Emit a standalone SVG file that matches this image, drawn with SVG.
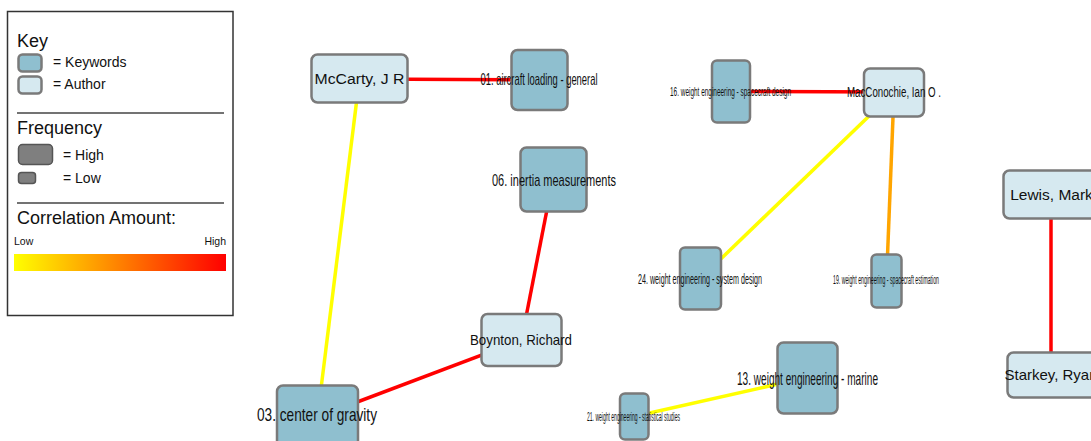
<svg xmlns="http://www.w3.org/2000/svg" width="1091" height="441" viewBox="0 0 1091 441">
<style>
text{font-family:"Liberation Sans",Arial,sans-serif;fill:#111}
.kw{fill:#8fbfcf;stroke:#7a7a7a;stroke-width:2.5}
.au{fill:#d6e9f0;stroke:#7a7a7a;stroke-width:2.5}
.fq{fill:#7f7f7f;stroke:#555;stroke-width:1.5}
.lnk{stroke-width:3.5;fill:none}
.lbl{text-anchor:middle}
.sep{stroke:#444;stroke-width:1.5}
</style>
<defs>
<linearGradient id="corr" x1="0" x2="1" y1="0" y2="0">
<stop offset="0" stop-color="#ffff00"/>
<stop offset="0.5" stop-color="#ff8000"/>
<stop offset="1" stop-color="#ff0000"/>
</linearGradient>
</defs>
<g id="legend">
<rect x="7.5" y="11.5" width="225.5" height="304" fill="#fff" stroke="#333" stroke-width="1.5"/>
<text x="17" y="47" font-size="18">Key</text>
<rect class="kw" x="18.5" y="54.5" width="23" height="17" rx="4" stroke-width="1.5"/>
<text x="53" y="67" font-size="14">= Keywords</text>
<rect class="au" x="18.5" y="76.5" width="23" height="17" rx="4" stroke-width="1.5"/>
<text x="53" y="89" font-size="14">= Author</text>
<line class="sep" x1="17" y1="113" x2="224" y2="113"/>
<text x="17" y="134" font-size="18">Frequency</text>
<rect class="fq" x="18.5" y="144.5" width="34" height="20" rx="4"/>
<text x="63" y="160" font-size="14">= High</text>
<rect class="fq" x="18.5" y="172.5" width="17" height="11" rx="3"/>
<text x="63" y="183" font-size="14">= Low</text>
<line class="sep" x1="17" y1="203" x2="224" y2="203"/>
<text x="17" y="224" font-size="18">Correlation Amount:</text>
<text x="14" y="245" font-size="10.5">Low</text>
<text x="226" y="245" font-size="10.5" text-anchor="end">High</text>
<rect x="14" y="254" width="212" height="17" fill="url(#corr)"/>
</g>
<g id="connectors">
<line class="lnk" stroke="#ff0000" x1="359.5" y1="79" x2="539" y2="80"/>
<line class="lnk" stroke="#ffff00" x1="359.5" y1="78" x2="317.5" y2="417"/>
<line class="lnk" stroke="#ff0000" x1="521.5" y1="340" x2="317.5" y2="417"/>
<line class="lnk" stroke="#ff0000" x1="553" y1="179" x2="521.5" y2="340"/>
<line class="lnk" stroke="#ff0000" x1="731" y1="91.5" x2="894" y2="92"/>
<line class="lnk" stroke="#ffff00" x1="894" y1="92" x2="700.5" y2="278.5"/>
<line class="lnk" stroke="#ffa500" x1="894" y1="92" x2="886.5" y2="281"/>
<line class="lnk" stroke="#ffff00" x1="634" y1="416.5" x2="807" y2="377.5"/>
<line class="lnk" stroke="#ff0000" x1="1051" y1="194" x2="1051" y2="375"/>
</g>
<g id="n-mccarty"><rect class="au" x="311.5" y="54.5" width="96" height="48" rx="6"/><text class="lbl" x="359.5" y="84" font-size="15.5" textLength="90" lengthAdjust="spacingAndGlyphs">McCarty, J R</text></g>
<g id="n-01"><rect class="kw" x="511.5" y="50" width="56" height="60" rx="6"/><text class="lbl" x="539" y="85" font-size="16.5" textLength="117" lengthAdjust="spacingAndGlyphs">01. aircraft loading - general</text></g>
<g id="n-06"><rect class="kw" x="520.5" y="147.5" width="66" height="64" rx="6"/><text class="lbl" x="554" y="186" font-size="17" textLength="124" lengthAdjust="spacingAndGlyphs">06. inertia measurements</text></g>
<g id="n-boynton"><rect class="au" x="481.5" y="314" width="80" height="52" rx="6"/><text class="lbl" x="521" y="345" font-size="15" textLength="102" lengthAdjust="spacingAndGlyphs">Boynton, Richard</text></g>
<g id="n-03"><rect class="kw" x="277" y="385.5" width="81" height="64" rx="6"/><text class="lbl" x="317" y="421" font-size="19" textLength="120" lengthAdjust="spacingAndGlyphs">03. center of gravity</text></g>
<g id="n-16"><rect class="kw" x="712" y="60.5" width="38" height="62" rx="5"/><text class="lbl" x="730.5" y="96" font-size="12.5" textLength="121" lengthAdjust="spacingAndGlyphs">16. weight engineering - spacecraft design</text></g>
<g id="n-macconochie"><rect class="au" x="864" y="68.5" width="60" height="48" rx="6"/><text class="lbl" x="894" y="97" font-size="14" textLength="94" lengthAdjust="spacingAndGlyphs">MacConochie, Ian O .</text></g>
<g id="n-24"><rect class="kw" x="680" y="247.5" width="41" height="62" rx="5"/><text class="lbl" x="700" y="284" font-size="15" textLength="124" lengthAdjust="spacingAndGlyphs">24. weight engineering - system design</text></g>
<g id="n-19"><rect class="kw" x="871.5" y="254.5" width="30" height="53" rx="5"/><text class="lbl" x="886" y="284" font-size="12" textLength="106" lengthAdjust="spacingAndGlyphs">19. weight engineering - spacecraft estimation</text></g>
<g id="n-13"><rect class="kw" x="777.5" y="342.5" width="60" height="71" rx="6"/><text class="lbl" x="807.5" y="385" font-size="18.5" textLength="141" lengthAdjust="spacingAndGlyphs">13. weight engineering - marine</text></g>
<g id="n-21"><rect class="kw" x="620" y="393.5" width="28.5" height="46" rx="5"/><text class="lbl" x="633.5" y="421" font-size="12" textLength="93" lengthAdjust="spacingAndGlyphs">21. weight engineering - statistical studies</text></g>
<g id="n-lewis"><rect class="au" x="1003.5" y="170.5" width="96" height="48" rx="6"/><text class="lbl" x="1051.5" y="200" font-size="15.5">Lewis, Mark</text></g>
<g id="n-starkey"><rect class="au" x="1007.5" y="352.5" width="92" height="45" rx="6"/><text class="lbl" x="1051" y="380" font-size="15">Starkey, Ryan</text></g>
</svg>
